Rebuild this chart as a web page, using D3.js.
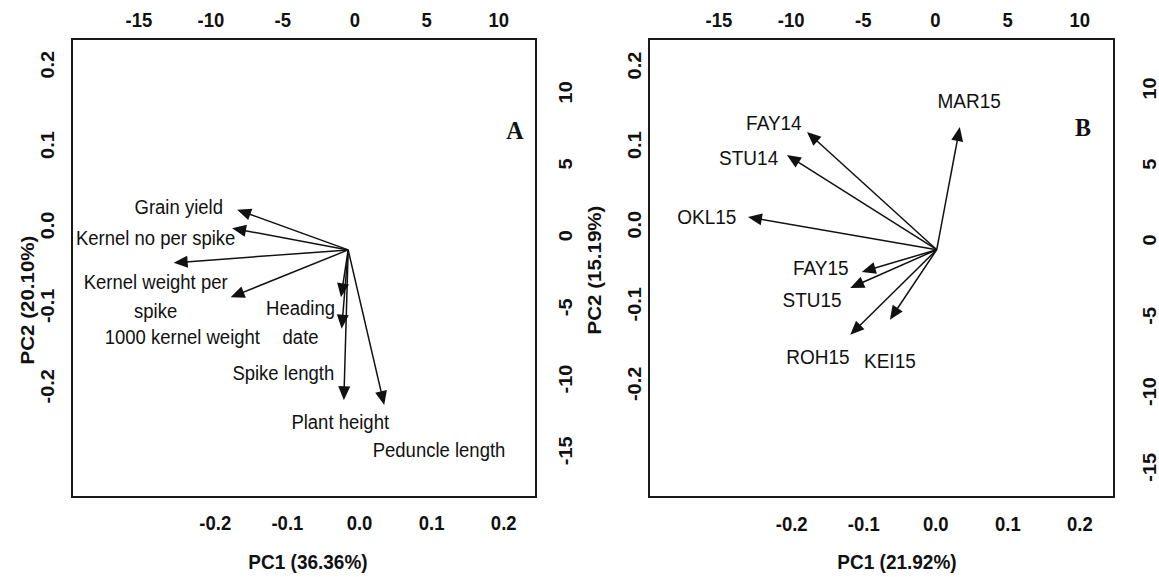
<!DOCTYPE html>
<html><head><meta charset="utf-8">
<script src="https://cdn.jsdelivr.net/npm/d3@7"></script>
<style>body{margin:0;background:#fff;} svg{display:block;}</style>
</head><body><svg id="chart" width="1159" height="577"></svg>
<script>
// ---------------- data ----------------
const loadingTicks = [-0.2, -0.1, 0.0, 0.1, 0.2];
const loadingTickLabels = ["-0.2", "-0.1", "0.0", "0.1", "0.2"];
const scoreTicks = [-15, -10, -5, 0, 5, 10];
const scoreTickLabels = ["-15", "-10", "-5", "0", "5", "10"];

// Panel A: traits
const traitNames = ["Grain yield", "Kernel no per spike", "Kernel weight per spike", "1000 kernel weight",
  "Heading date", "Spike length", "Plant height", "Peduncle length"];
const traitOrigin = [-0.015, -0.031];
const traitPC1 = [-0.169, -0.176, -0.257, -0.178, -0.025, -0.024, -0.021, 0.035];
const traitPC2 = [0.019, -0.004, -0.047, -0.090, -0.090, -0.129, -0.218, -0.224];
const traitLabelLines = [["Grain yield"], ["Kernel no per spike"], ["Kernel weight per", "spike"], ["1000 kernel weight"],
  ["Heading", "date"], ["Spike length"], ["Plant height"], ["Peduncle length"]];
const traitLabelPC1 = [-0.250, -0.282, -0.282, -0.245, -0.081, -0.105, -0.026, 0.111];
const traitLabelPC2 = [0.022, -0.016, -0.071, -0.139, -0.103, -0.184, -0.245, -0.280];

// Panel B: environments
const envNames = ["MAR15", "FAY14", "STU14", "OKL15", "FAY15", "STU15", "ROH15", "KEI15"];
const envOrigin = [0.002, -0.032];
const envPC1 = [0.034, -0.178, -0.206, -0.260, -0.102, -0.118, -0.118, -0.063];
const envPC2 = [0.122, 0.116, 0.087, 0.009, -0.060, -0.080, -0.139, -0.120];
const envLabelPC1 = [0.047, -0.224, -0.259, -0.317, -0.159, -0.171, -0.163, -0.063];
const envLabelPC2 = [0.155, 0.127, 0.083, 0.009, -0.055, -0.095, -0.167, -0.171];

const panelTitles = ["A", "B"];
const xTitles = ["PC1 (36.36%)", "PC1 (21.92%)"];
const yTitles = ["PC2 (20.10%)", "PC2 (15.19%)"];

// ---------------- layout ----------------
const K = 1.08; // vertical stretch of the original picture
const panels = [
  { box: [72, 39, 536, 497], xDom: [-0.398, 0.2455], yDom: [0.2313, -0.3383], tDom: [-19.62, 12.63], rDom: [13.68, -18.26],
    leftX: 48, rightX: 566, topY: 20, bottomY: 523, xTitle: [308, 562], yTitle: [27, 300], letter: [515, 130],
    origin: traitOrigin, px: traitPC1, py: traitPC2, lines: traitLabelLines, lx: traitLabelPC1, ly: traitLabelPC2, fs: 18.5, lh: 29 },
  { box: [649, 39, 1114, 497], xDom: [-0.3973, 0.2480], yDom: [0.2327, -0.3427], tDom: [-19.81, 12.41], rDom: [13.23, -16.99],
    leftX: 635, rightX: 1150, topY: 20, bottomY: 524, xTitle: [897, 562], yTitle: [594, 270], letter: [1083, 127],
    origin: envOrigin, px: envPC1, py: envPC2, lines: envNames.map(d => [d]), lx: envLabelPC1, ly: envLabelPC2, fs: 19, lh: 29 }
];

const svg = d3.select("#chart");
svg.append("rect").attr("width", 1159).attr("height", 577).attr("fill", "#fff");
const FONT = "'Liberation Sans', Arial, Helvetica, sans-serif";

panels.forEach((p, pi) => {
  const [x0, y0, x1, y1] = p.box;
  const x = d3.scaleLinear().domain(p.xDom).range([x0, x1]);
  const y = d3.scaleLinear().domain(p.yDom).range([y0, y1]);
  const xt = d3.scaleLinear().domain(p.tDom).range([x0, x1]);
  const yr = d3.scaleLinear().domain(p.rDom).range([y0, y1]);
  const g = svg.append("g");

  function styleTicks(sel, rotated) {
    sel.select(".domain").remove();
    sel.selectAll(".tick line").remove();
    sel.selectAll(".tick text")
      .attr("x", 0).attr("y", 0).attr("dy", "0.35em")
      .attr("text-anchor", "middle")
      .attr("transform", rotated ? `scale(1,${K}) rotate(-90)` : `scale(1,${K})`)
      .style("font-family", FONT).style("font-weight", "bold").style("font-size", "18.5px").attr("fill", "#111");
  }
  // bottom
  g.append("g").attr("transform", `translate(0,${p.bottomY})`)
    .call(d3.axisBottom(x).tickValues(loadingTicks).tickFormat((d, i) => loadingTickLabels[i]).tickSize(0))
    .call(s => styleTicks(s, false));
  // left
  g.append("g").attr("transform", `translate(${p.leftX},0)`)
    .call(d3.axisLeft(y).tickValues(loadingTicks).tickFormat((d, i) => loadingTickLabels[i]).tickSize(0))
    .call(s => styleTicks(s, true));
  // top
  g.append("g").attr("transform", `translate(0,${p.topY})`)
    .call(d3.axisTop(xt).tickValues(scoreTicks).tickFormat((d, i) => scoreTickLabels[i]).tickSize(0))
    .call(s => styleTicks(s, false));
  // right
  g.append("g").attr("transform", `translate(${p.rightX},0)`)
    .call(d3.axisRight(yr).tickValues(scoreTicks).tickFormat((d, i) => scoreTickLabels[i]).tickSize(0))
    .call(s => styleTicks(s, true));

  // box
  g.append("rect").attr("x", x0).attr("y", y0).attr("width", x1 - x0).attr("height", y1 - y0)
    .attr("fill", "none").attr("stroke", "#1a1a1a").attr("stroke-width", 2);

  // titles
  g.append("text").attr("transform", `translate(${p.xTitle[0]},${p.xTitle[1]}) scale(1,${K})`)
    .attr("text-anchor", "middle").attr("dy", "0.35em").text(xTitles[pi])
    .style("font-family", FONT).style("font-weight", "bold").style("font-size", "19px").attr("fill", "#111");
  g.append("text").attr("transform", `translate(${p.yTitle[0]},${p.yTitle[1]}) scale(1,${K}) rotate(-90)`)
    .attr("text-anchor", "middle").attr("dy", "0.35em").text(yTitles[pi])
    .style("font-family", FONT).style("font-weight", "bold").style("font-size", "19px").attr("fill", "#111");
  g.append("text").attr("transform", `translate(${p.letter[0]},${p.letter[1]}) scale(1,${K})`)
    .attr("text-anchor", "middle").attr("dy", "0.35em").text(panelTitles[pi])
    .style("font-family", "'Liberation Serif', 'Times New Roman', serif").style("font-weight", "bold").style("font-size", "24px").attr("fill", "#111");

  // arrows
  const ox = x(p.origin[0]), oy = y(p.origin[1]);
  const L = 14, W = 6;
  p.px.forEach((v, i) => {
    const tx = x(v), ty = y(p.py[i]);
    const dx = tx - ox, dy = ty - oy, len = Math.hypot(dx, dy);
    const ux = dx / len, uy = dy / len;
    const bx = tx - ux * L, by = ty - uy * L;
    g.append("line").attr("x1", ox).attr("y1", oy).attr("x2", bx + ux * 2).attr("y2", by + uy * 2)
      .attr("stroke", "#111").attr("stroke-width", 1.5);
    g.append("path")
      .attr("d", `M${tx},${ty}L${bx - uy * W},${by + ux * W}L${bx + uy * W},${by - ux * W}Z`)
      .attr("fill", "#111");
  });

  // labels
  p.lines.forEach((lines, i) => {
    lines.forEach((t, j) => {
      g.append("text")
        .attr("transform", `translate(${x(p.lx[i])},${y(p.ly[i]) + j * p.lh}) scale(1,${K})`)
        .attr("text-anchor", "middle").attr("dy", "0.35em").text(t)
        .style("font-family", FONT).style("font-size", p.fs + "px").attr("fill", "#111");
    });
  });
});
</script>
</body></html>
